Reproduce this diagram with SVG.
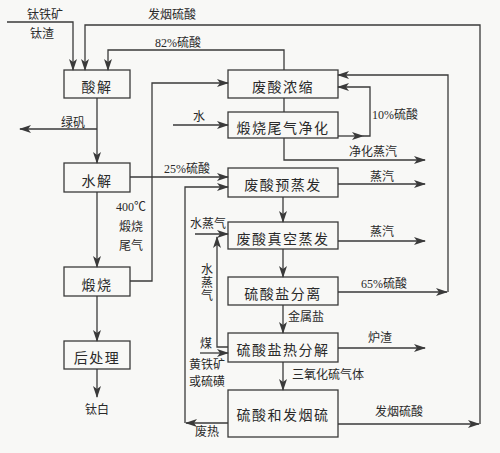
<svg xmlns="http://www.w3.org/2000/svg" width="500" height="453" viewBox="0 0 500 453">
<style>
.bg{fill:#f8f8f6}
.box{fill:none;stroke:#3a3a3a;stroke-width:1.3}
.bt{font-family:"Noto Sans CJK SC","Liberation Serif",serif;font-size:14px;fill:#2a2a2a;text-anchor:middle;dominant-baseline:central;letter-spacing:1.5px}
.lb{font-family:"Liberation Serif","Noto Sans CJK SC",serif;font-size:12px;fill:#2a2a2a;text-anchor:middle;dominant-baseline:central}
.c path{fill:none;stroke:#3a3a3a;stroke-width:1.3;marker-end:url(#ah)}
.c path.n{marker-end:none}
.ah{fill:#3a3a3a}
</style>
<defs>
<marker id="ah" viewBox="0 0 12 8" refX="11" refY="4" markerWidth="12" markerHeight="8" markerUnits="userSpaceOnUse" orient="auto">
<path d="M0,0 L12,4 L0,8 L3,4 z" class="ah"/>
</marker>
</defs>
<rect class="bg" x="0" y="0" width="500" height="453"/>
<g id="connectors" class="c">
<path d="M7,22 H73 V70"/>
<path d="M338,424 H479"/>
<path d="M480,424 V25 H85 V70"/>
<path d="M284,70 V50 H108 V70"/>
<path d="M97,129 H20"/>
<path d="M97,98 V163"/>
<path d="M97,192 V267"/>
<path d="M97,296 V341"/>
<path d="M97,369 V397"/>
<path d="M130,281 H152 V83 H228"/>
<path d="M173,125 H228"/>
<path class="n" d="M284,98 V112"/>
<path d="M338,136 H363"/>
<path d="M363,136 H370 V87 H338"/>
<path d="M284,138 V160 H425"/>
<path d="M130,177 H228"/>
<path d="M228,423 H186"/>
<path d="M185,423 V187 H228"/>
<path d="M283,197 V222"/>
<path d="M283,249 V277"/>
<path d="M283,305 V333"/>
<path d="M283,362 V390"/>
<path d="M338,184 H425"/>
<path d="M338,241 H425"/>
<path d="M338,292 H447"/>
<path d="M448,292 V75 H338"/>
<path d="M338,348 H425"/>
<path d="M195,234 H228"/>
<path d="M228,347 H217 V237"/>
<path d="M200,353 H228"/>
</g>
<g id="n1"><rect class="box" x="64" y="70" width="66" height="28"/><text class="bt" x="97" y="86">酸解</text></g>
<g id="n2"><rect class="box" x="64" y="163" width="66" height="29"/><text class="bt" x="97" y="180">水解</text></g>
<g id="n3"><rect class="box" x="64" y="267" width="66" height="29"/><text class="bt" x="97" y="284">煅烧</text></g>
<g id="n4"><rect class="box" x="64" y="341" width="66" height="28"/><text class="bt" x="97" y="357">后处理</text></g>
<g id="n5"><rect class="box" x="228" y="70" width="110" height="28"/><text class="bt" x="283" y="86">废酸浓缩</text></g>
<g id="n6"><rect class="box" x="228" y="112" width="110" height="26"/><text class="bt" x="283" y="127">煅烧尾气净化</text></g>
<g id="n7"><rect class="box" x="228" y="168" width="110" height="29"/><text class="bt" x="283" y="184">废酸预蒸发</text></g>
<g id="n8"><rect class="box" x="228" y="222" width="110" height="27"/><text class="bt" x="283" y="238">废酸真空蒸发</text></g>
<g id="n9"><rect class="box" x="228" y="277" width="110" height="28"/><text class="bt" x="283" y="293">硫酸盐分离</text></g>
<g id="n10"><rect class="box" x="228" y="333" width="110" height="29"/><text class="bt" x="283" y="349">硫酸盐热分解</text></g>
<g id="n11"><rect class="box" x="228" y="390" width="110" height="47"/><text class="bt" x="283" y="414">硫酸和发烟硫</text></g>
<g id="labels">
<text class="lb" x="45" y="15">钛铁矿</text>
<text class="lb" x="42" y="34">钛渣</text>
<text class="lb" x="172" y="15">发烟硫酸</text>
<text class="lb" x="178" y="43">82%硫酸</text>
<text class="lb" x="73" y="123">绿矾</text>
<text class="lb" x="131" y="207">400℃</text>
<text class="lb" x="131" y="227">煅烧</text>
<text class="lb" x="131" y="246">尾气</text>
<text class="lb" x="199" y="117">水</text>
<text class="lb" x="395" y="115">10%硫酸</text>
<text class="lb" x="373" y="152">净化蒸汽</text>
<text class="lb" x="187" y="169">25%硫酸</text>
<text class="lb" x="208" y="224">水蒸气</text>
<text class="lb" x="207" y="270">水</text>
<text class="lb" x="207" y="283">蒸</text>
<text class="lb" x="207" y="296">气</text>
<text class="lb" x="382" y="177">蒸汽</text>
<text class="lb" x="382" y="232">蒸汽</text>
<text class="lb" x="384" y="284">65%硫酸</text>
<text class="lb" x="306" y="317">金属盐</text>
<text class="lb" x="380" y="338">炉渣</text>
<text class="lb" x="328" y="375">三氧化硫气体</text>
<text class="lb" x="399" y="412">发烟硫酸</text>
<text class="lb" x="206" y="344">煤</text>
<text class="lb" x="207" y="365">黄铁矿</text>
<text class="lb" x="207" y="382">或硫磺</text>
<text class="lb" x="207" y="432">废热</text>
<text class="lb" x="97" y="410">钛白</text>
</g>
</svg>
